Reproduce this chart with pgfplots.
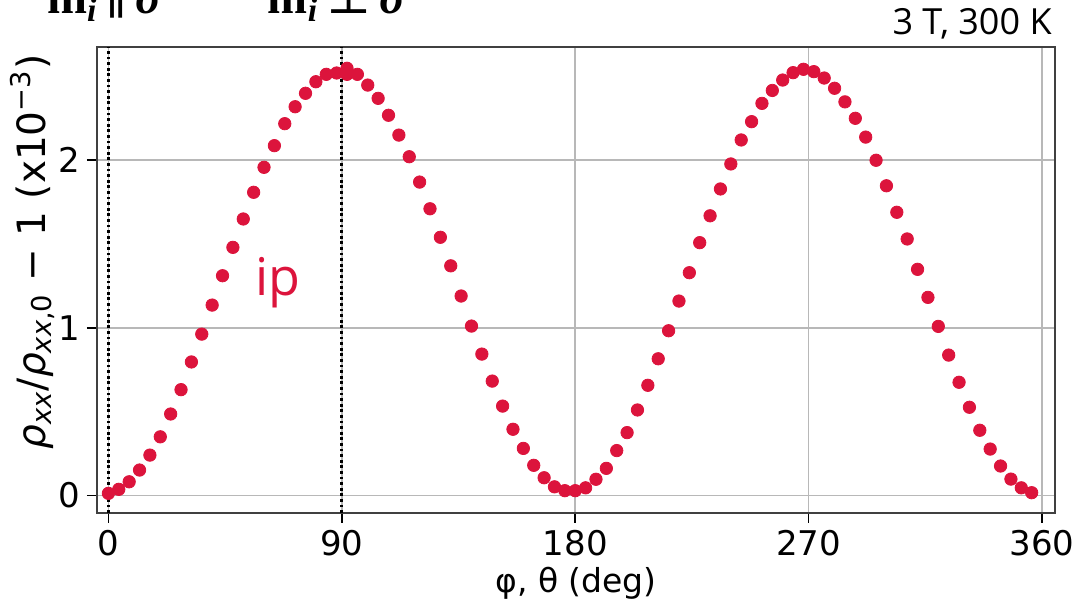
\documentclass[border=0pt]{standalone}
\usepackage{fontspec}
\setmainfont{DejaVu Sans}
\newfontfamily\osans{Open Sans}
\newfontfamily\tserif{Liberation Serif}
\newfontfamily\dserif{DejaVu Serif}
\usepackage{pgfplots}
\pgfplotsset{compat=1.18}
\definecolor{crim}{HTML}{DC143C}

\pgfplotstableread{
x y
0 0.013
4 0.037
8 0.082
12 0.152
16 0.241
20 0.350
24 0.486
28 0.631
32 0.796
36 0.962
40 1.135
44 1.310
48 1.479
52 1.648
56 1.807
60 1.956
64 2.085
68 2.216
72 2.317
76 2.397
80 2.466
84 2.510
88 2.518
92 2.546
92 2.510
96 2.510
100 2.446
104 2.367
108 2.266
112 2.148
116 2.019
120 1.868
124 1.709
128 1.539
132 1.369
136 1.189
140 1.010
144 0.843
148 0.682
152 0.533
156 0.395
160 0.281
164 0.180
168 0.106
172 0.052
176 0.029
180 0.029
184 0.046
188 0.097
192 0.162
196 0.268
200 0.375
204 0.510
208 0.657
212 0.815
216 0.982
220 1.159
224 1.328
228 1.507
232 1.667
236 1.827
240 1.976
244 2.119
248 2.228
252 2.337
256 2.414
260 2.476
264 2.520
268 2.540
272 2.526
276 2.488
280 2.427
284 2.346
288 2.248
292 2.136
296 1.998
300 1.846
304 1.688
308 1.529
312 1.348
316 1.181
320 1.008
324 0.837
328 0.675
332 0.526
336 0.389
340 0.277
344 0.176
348 0.098
352 0.046
356 0.017
}\data

\begin{document}
\begin{tikzpicture}
\begin{axis}[
  at={(48.5pt,45.5pt)}, anchor=south west,
  scale only axis, width=479pt, height=233pt,
  xmin=-4.4, xmax=365, ymin=-0.104, ymax=2.673,
  xtick={0,90,180,270,360}, ytick={0,1,2},
  grid=major, major grid style={black!28, line width=0.8pt},
  axis line style={black!75, line width=1pt},
  tick style={black, line width=0.8pt}, tick align=outside, major tick length=5pt,
  tick pos=left,
  /pgf/number format/assume math mode=true,
  ticklabel style={font=\fontsize{17}{17}\selectfont},
  xlabel={φ, θ (deg)},
  ylabel={\textit{ρ}\textsubscript{\textit{xx}}/\textit{ρ}\textsubscript{\textit{xx},0} − 1 (x10\textsuperscript{−3})},
  xlabel style={font=\fontsize{16.5}{16.5}\selectfont, at={(axis description cs:0.5,0)}, anchor=base, yshift=-39.5pt},
  ylabel style={font=\fontsize{19.5}{19.5}\selectfont, at={(axis description cs:-0.067,0.56)}, anchor=center},
]
\addplot[only marks, mark=*, mark size=3.1pt, color=crim, mark options={draw=crim, fill=crim}] table {\data};
\addplot[black, line width=1.5pt, dash pattern=on 1.4pt off 1.4pt] coordinates {(0,-0.104) (0,2.673)};
\addplot[black, line width=1.5pt, dash pattern=on 1.4pt off 1.4pt] coordinates {(90,-0.104) (90,2.673)};
\end{axis}
\node[inner sep=0pt, anchor=base west, text=crim, font=\osans\fontsize{26}{26}\selectfont] at (127.5pt,154pt) {ip};
\node[inner sep=0pt, anchor=base east, font=\osans\fontsize{18}{18}\selectfont] at (526pt,284.5pt) {3 T, 300 K};
\node[anchor=base, font=\tserif\fontsize{24}{24}\selectfont] at (52.5pt,295pt) {\textbf{m}\textsubscript{\textbf{\textit{i}}}\,{\dserif ∥}\,\textbf{\textit{σ}}};
\node[anchor=base, font=\tserif\fontsize{24}{24}\selectfont] at (168.5pt,295pt) {\textbf{m}\textsubscript{\textbf{\textit{i}}}\,{\dserif ⊥}\,\textbf{\textit{σ}}};
\pgfresetboundingbox
\useasboundingbox (0,0) rectangle (539.5pt,302pt);
\end{tikzpicture}
\end{document}
